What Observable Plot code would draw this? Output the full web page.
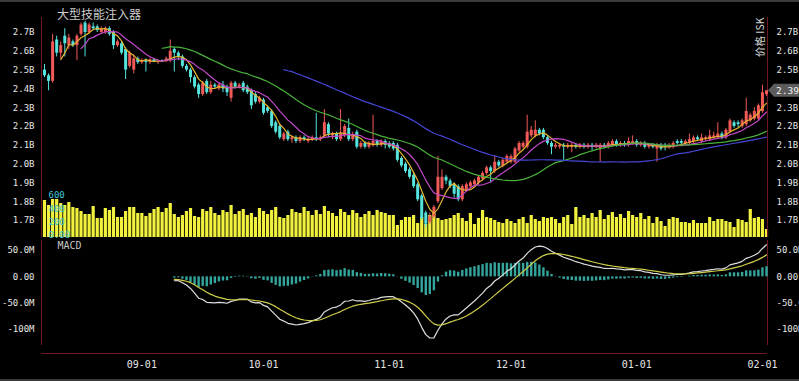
<!DOCTYPE html>
<html><head><meta charset="utf-8">
<script src="https://cdn.jsdelivr.net/npm/d3@7"></script>
<script src="https://cdn.jsdelivr.net/npm/@observablehq/plot@0.6"></script>
<style>
html,body{margin:0;padding:0;background:#000;}
#chart{position:relative;width:799px;height:381px;background:#000;overflow:hidden;}
#chart svg{position:absolute;left:0;top:0;}
.title{position:absolute;left:57px;top:5px;font-family:"Noto Sans CJK SC",sans-serif;font-size:12px;color:#cdcdcd;white-space:nowrap;}
.edge{position:absolute;left:0;width:799px;height:2px;background:#3a3a3a;}
</style></head><body>
<div id="chart"><div class="edge" style="top:0"></div><div class="edge" style="bottom:0"></div></div>
<script>
const chartTitle = "大型技能注入器";
const yAxisLabel = "价格 ISK";
const macdLabel = "MACD";
const startDay = "2023-08-08";

const open = [2.50,2.47,2.44,2.66,2.59,2.68,2.63,2.65,2.63,2.69,2.75,2.70,2.73,2.73,2.70,2.70,2.72,2.70,2.63,2.64,
2.61,2.52,2.50,2.56,2.54,2.55,2.54,2.555,2.545,2.55,2.545,2.55,2.61,2.59,2.57,2.52,2.50,2.46,2.42,2.37,
2.44,2.38,2.42,2.40,2.42,2.41,2.35,2.43,2.41,2.43,2.41,2.39,2.37,2.33,2.34,2.30,2.28,2.22,2.20,2.13,
2.17,2.13,2.14,2.12,2.14,2.12,2.13,2.14,2.13,2.15,2.21,2.15,2.16,2.13,2.15,2.19,2.13,2.17,2.09,2.11,
2.09,2.10,2.12,2.10,2.12,2.11,2.11,2.10,2.03,2.00,1.97,1.94,1.89,1.83,1.74,1.69,1.72,1.80,1.87,1.93,
1.91,1.89,1.88,1.81,1.86,1.88,1.89,1.90,1.92,1.95,1.98,1.96,2.01,1.99,2.01,2.01,2.01,2.07,2.09,2.09,
2.15,2.15,2.18,2.18,2.14,2.11,2.09,2.09,2.10,2.09,2.09,2.10,2.09,2.10,2.09,2.10,2.09,2.08,2.10,2.09,
2.10,2.12,2.10,2.11,2.10,2.11,2.12,2.10,2.11,2.09,2.10,2.08,2.10,2.10,2.09,2.09,2.12,2.12,2.11,2.11,
2.12,2.14,2.12,2.13,2.13,2.14,2.14,2.16,2.14,2.17,2.22,2.22,2.20,2.21,2.23,2.24,2.24,2.28,2.37];
const high = [2.53,2.48,2.69,2.68,2.65,2.72,2.69,2.66,2.69,2.75,2.76,2.75,2.75,2.74,2.73,2.73,2.73,2.71,2.66,2.65,
2.62,2.60,2.58,2.57,2.56,2.56,2.56,2.56,2.555,2.555,2.57,2.66,2.62,2.60,2.58,2.53,2.51,2.47,2.43,2.44,
2.45,2.44,2.43,2.43,2.44,2.42,2.44,2.44,2.43,2.44,2.42,2.40,2.38,2.36,2.35,2.31,2.29,2.23,2.21,2.17,
2.18,2.15,2.15,2.15,2.15,2.14,2.15,2.27,2.15,2.29,2.22,2.17,2.17,2.29,2.21,2.24,2.17,2.18,2.12,2.12,
2.12,2.26,2.13,2.13,2.13,2.12,2.12,2.11,2.04,2.01,1.98,1.95,1.90,1.84,1.75,1.74,1.78,2.04,1.97,1.94,
1.92,1.90,1.89,1.89,1.90,1.91,1.92,1.94,1.96,1.99,1.99,2.04,2.02,2.03,2.05,2.05,2.09,2.12,2.12,2.26,
2.20,2.23,2.19,2.19,2.15,2.12,2.11,2.11,2.11,2.11,2.11,2.11,2.11,2.11,2.11,2.11,2.11,2.11,2.11,2.12,
2.13,2.13,2.12,2.12,2.14,2.15,2.13,2.12,2.12,2.11,2.11,2.11,2.11,2.11,2.11,2.12,2.13,2.13,2.13,2.16,
2.15,2.15,2.16,2.15,2.18,2.17,2.22,2.17,2.19,2.24,2.23,2.23,2.24,2.35,2.27,2.30,2.32,2.42,2.39];
const low = [2.46,2.39,2.43,2.57,2.56,2.57,2.61,2.62,2.55,2.68,2.57,2.69,2.71,2.70,2.69,2.69,2.68,2.61,2.62,2.58,
2.45,2.51,2.48,2.53,2.53,2.49,2.53,2.54,2.53,2.54,2.54,2.54,2.49,2.55,2.51,2.49,2.43,2.40,2.35,2.36,
2.37,2.37,2.40,2.39,2.38,2.36,2.33,2.40,2.40,2.38,2.37,2.29,2.32,2.32,2.26,2.27,2.19,2.16,2.13,2.12,
2.12,2.11,2.11,2.11,2.12,2.11,2.12,2.12,2.12,2.14,2.14,2.13,2.12,2.12,2.14,2.12,2.12,2.08,2.08,2.08,
2.08,2.09,2.09,2.09,2.08,2.08,2.07,2.01,1.98,1.95,1.92,1.87,1.80,1.70,1.66,1.68,1.71,1.79,1.86,1.89,
1.87,1.82,1.80,1.80,1.85,1.87,1.88,1.89,1.91,1.94,1.90,1.95,1.98,1.98,2.00,2.00,2.00,2.06,2.08,2.08,
2.14,2.14,2.15,2.13,2.10,2.05,2.08,2.08,2.02,2.08,2.06,2.08,2.08,2.08,2.08,2.07,2.08,2.01,2.08,2.08,
2.09,2.09,2.09,2.09,2.09,2.10,2.09,2.09,2.08,2.08,2.08,2.01,2.07,2.07,2.08,2.08,2.10,2.10,2.10,2.10,
2.11,2.12,2.11,2.12,2.12,2.13,2.13,2.13,2.13,2.16,2.19,2.19,2.19,2.20,2.22,2.23,2.23,2.27,2.36];
const close = [2.47,2.44,2.65,2.59,2.63,2.64,2.67,2.63,2.68,2.74,2.70,2.74,2.72,2.71,2.72,2.72,2.69,2.63,2.65,2.59,
2.50,2.59,2.56,2.54,2.55,2.54,2.555,2.545,2.55,2.545,2.56,2.60,2.59,2.57,2.52,2.50,2.46,2.41,2.37,2.43,
2.38,2.42,2.41,2.42,2.40,2.38,2.43,2.41,2.42,2.39,2.38,2.31,2.33,2.35,2.27,2.28,2.20,2.17,2.14,2.16,
2.13,2.14,2.12,2.14,2.13,2.13,2.14,2.13,2.14,2.22,2.16,2.16,2.13,2.16,2.20,2.13,2.15,2.09,2.11,2.09,
2.11,2.12,2.10,2.12,2.10,2.09,2.08,2.02,1.99,1.96,1.93,1.88,1.81,1.71,1.68,1.72,1.77,1.93,1.93,1.91,
1.88,1.84,1.81,1.88,1.89,1.90,1.91,1.93,1.95,1.98,1.96,2.01,1.99,2.02,2.04,2.04,2.08,2.11,2.11,2.17,
2.18,2.18,2.16,2.14,2.11,2.09,2.10,2.10,2.09,2.10,2.10,2.09,2.10,2.09,2.10,2.09,2.10,2.10,2.09,2.11,
2.12,2.10,2.11,2.10,2.12,2.12,2.10,2.11,2.09,2.10,2.09,2.10,2.08,2.09,2.10,2.11,2.11,2.11,2.12,2.13,
2.14,2.13,2.14,2.14,2.15,2.15,2.16,2.14,2.18,2.23,2.20,2.21,2.23,2.28,2.26,2.28,2.31,2.38,2.39];
const volume = [555,480,570,570,510,480,525,450,435,390,345,345,465,285,285,435,405,450,300,300,
390,450,450,360,360,315,360,420,450,375,435,510,345,300,330,390,435,315,300,420,
390,450,360,330,405,375,480,345,390,420,330,360,300,435,390,345,405,450,300,285,
330,420,375,360,450,390,330,405,345,465,390,360,315,420,375,330,405,360,300,345,
390,330,405,375,360,330,330,180,255,300,300,330,210,300,195,330,360,285,255,270,
285,330,360,285,240,360,195,285,405,300,285,255,225,210,270,240,210,270,300,210,
330,270,240,300,285,300,270,210,300,330,195,450,300,330,285,360,300,405,270,330,
375,300,345,285,390,330,300,360,270,315,210,300,240,165,270,300,285,225,225,210,
255,210,210,210,300,240,270,270,240,225,150,270,255,225,420,285,300,270,120];

const priceTicks = [1.7,1.8,1.9,2.0,2.1,2.2,2.3,2.4,2.5,2.6,2.7];
const volumeTicks = [0,200,400,600];
const volumeTickLabels = ["0.00","200","400","600"];
const macdTicks = [-100,-50,0,50];
const macdTickLabels = ["-100M","-50.0M","0.00","50.0M"];
const monthTicks = ["2023-09-01","2023-10-01","2023-11-01","2023-12-01","2024-01-01","2024-02-01"];

const upColor = "#f25a58", downColor = "#55e4dd", axisRed = "#6e1a24";
const maDefs = [{n:5,color:"#e3b431"},{n:10,color:"#c048c8"},{n:30,color:"#49b23a"},{n:60,color:"#4646d6"}];

const DAY = 864e5;
const t0 = Date.parse(startDay);
const rows = close.map((c,i)=>({date:new Date(t0+i*DAY), open:open[i], high:high[i], low:low[i], close:c, volume:volume[i]}));
const candleColor = d => d.close >= d.open ? upColor : downColor;
const sma = n => close.map((_,i)=> i < n-1 ? NaN : d3.mean(close.slice(i-n+1,i+1)));
const ema = (arr,n)=>{const k=2/(n+1); let e; return arr.map((v,i)=> e = (i===0 ? v : v*k + e*(1-k)));};
const ema12 = ema(close,12), ema26 = ema(close,26);
const dif = close.map((_,i)=> (ema12[i]-ema26[i])*1000);
const dea = ema(dif,9);
const macdRows = rows.map((d,i)=>({date:d.date, dif:dif[i], dea:dea[i], hist:dif[i]-dea[i]})).slice(32);
const last = rows[rows.length-1];
// the right axis hides the tick that sits under the current-price tag
const rightPriceTicks = priceTicks.filter(v => Math.abs(v - last.close) > 0.05);

const xDomain = [new Date(t0 - 0.74*DAY), new Date(t0 + (close.length-1+0.25)*DAY)];
const xOpt = {type:"utc", domain:xDomain, range:[41,767], axis:null};
const base = {position:"absolute", left:"0px", top:"0px", background:"transparent", overflow:"visible",
  color:"#e6e6e6", fontFamily:"'DejaVu Sans Mono', monospace", fontSize:"9px"};
const common = {width:799, height:381, marginLeft:41, marginRight:32, style:base};

const price = Plot.plot({
  ...common, marginTop:17, marginBottom:144,
  x: xOpt,
  y: {domain:[1.7,2.7], range:[220,32], axis:null},
  marks: [
    Plot.ruleX(xDomain, {stroke:axisRed}),
    Plot.axisY({ticks:priceTicks, anchor:"left", tickSize:0, tickPadding:7, tickFormat:d=>d.toFixed(1)+"B"}),
    Plot.axisY({ticks:rightPriceTicks, anchor:"right", tickSize:0, tickPadding:9, tickFormat:d=>d.toFixed(1)+"B"}),
    Plot.ruleX(rows, {x:"date", y1:"low", y2:"high", stroke:candleColor, strokeWidth:1}),
    Plot.ruleX(rows, {x:"date", y1:"open", y2:"close", stroke:candleColor, strokeWidth:3}),
    ...maDefs.map(m => Plot.lineY(rows, {x:"date", y:sma(m.n), stroke:m.color, strokeWidth:1.2})),
    Plot.text([yAxisLabel], {text:d=>d, frameAnchor:"top-right", rotate:-90, textAnchor:"end", lineAnchor:"middle",
      dx:-7, fontFamily:"'Noto Sans CJK SC', sans-serif", fontSize:10.5, fill:"#d6d6d6"})
  ]
});

const vol = Plot.plot({
  ...common, marginTop:17, marginBottom:144,
  x: xOpt,
  y: {domain:[0,600], range:[237,197], axis:null},
  marks: [
    Plot.ruleX(rows, {x:"date", y1:0, y2:"volume", stroke:"#f2f23e", strokeWidth:3.2}),
    Plot.text(volumeTicks, {y:d=>d, text:(d,i)=>volumeTickLabels[i], frameAnchor:"left", dx:7, dy:-2, textAnchor:"start", fill:"#3fc6cf", fontSize:9})
  ]
});

const macd = Plot.plot({
  ...common, marginTop:240, marginBottom:36,
  x: xOpt,
  y: {domain:[-100,50], range:[329,250], axis:null},
  marks: [
    Plot.ruleX(xDomain, {stroke:axisRed}),
    Plot.axisY({ticks:macdTicks, anchor:"left", tickSize:0, tickPadding:7, tickFormat:d=>macdTickLabels[macdTicks.indexOf(d)]}),
    Plot.axisY({ticks:macdTicks, anchor:"right", tickSize:0, tickPadding:9, tickFormat:d=>macdTickLabels[macdTicks.indexOf(d)]}),
    Plot.ruleX(macdRows, {x:"date", y1:0, y2:"hist", stroke:"#33a59d", strokeWidth:2.4}),
    Plot.lineY(macdRows, {x:"date", y:"dif", stroke:"#dedede", strokeWidth:1.2}),
    Plot.lineY(macdRows, {x:"date", y:"dea", stroke:"#cfcc4a", strokeWidth:1.2}),
    Plot.text([macdLabel], {text:d=>d, frameAnchor:"top-left", dx:16, dy:1, fill:"#c4c4c4", fontSize:10})
  ]
});

const xaxis = Plot.plot({
  ...common, marginTop:352, marginBottom:28,
  x: xOpt,
  y: {domain:[0,1], axis:null},
  marks: [
    Plot.ruleY([0], {stroke:axisRed}),
    Plot.axisX({ticks:monthTicks.map(s=>new Date(s)), anchor:"bottom", tickSize:0, tickPadding:7,
      tickFormat:d3.utcFormat("%m-%d"), fontSize:10})
  ]
});

const chart = document.getElementById("chart");
for (const p of [vol, price, macd, xaxis]) chart.appendChild(p);

// current price tag on the right axis
const ty = price.scale("y").apply(last.close);
const tag = d3.select(price).append("g");
tag.append("path").attr("d", `M768,${ty} L774,${ty-6.5} L805,${ty-6.5} L805,${ty+6.5} L774,${ty+6.5} Z`).attr("fill","#5c5c5c");
tag.append("text").attr("x",776).attr("y",ty).attr("dy","0.35em").attr("text-anchor","start")
  .attr("fill","#f2f2f2").attr("font-size",9.5).text(d3.format(".2f")(last.close)+"B");

const t = document.createElement("div");
t.className = "title"; t.textContent = chartTitle;
chart.appendChild(t);
</script></body></html>
